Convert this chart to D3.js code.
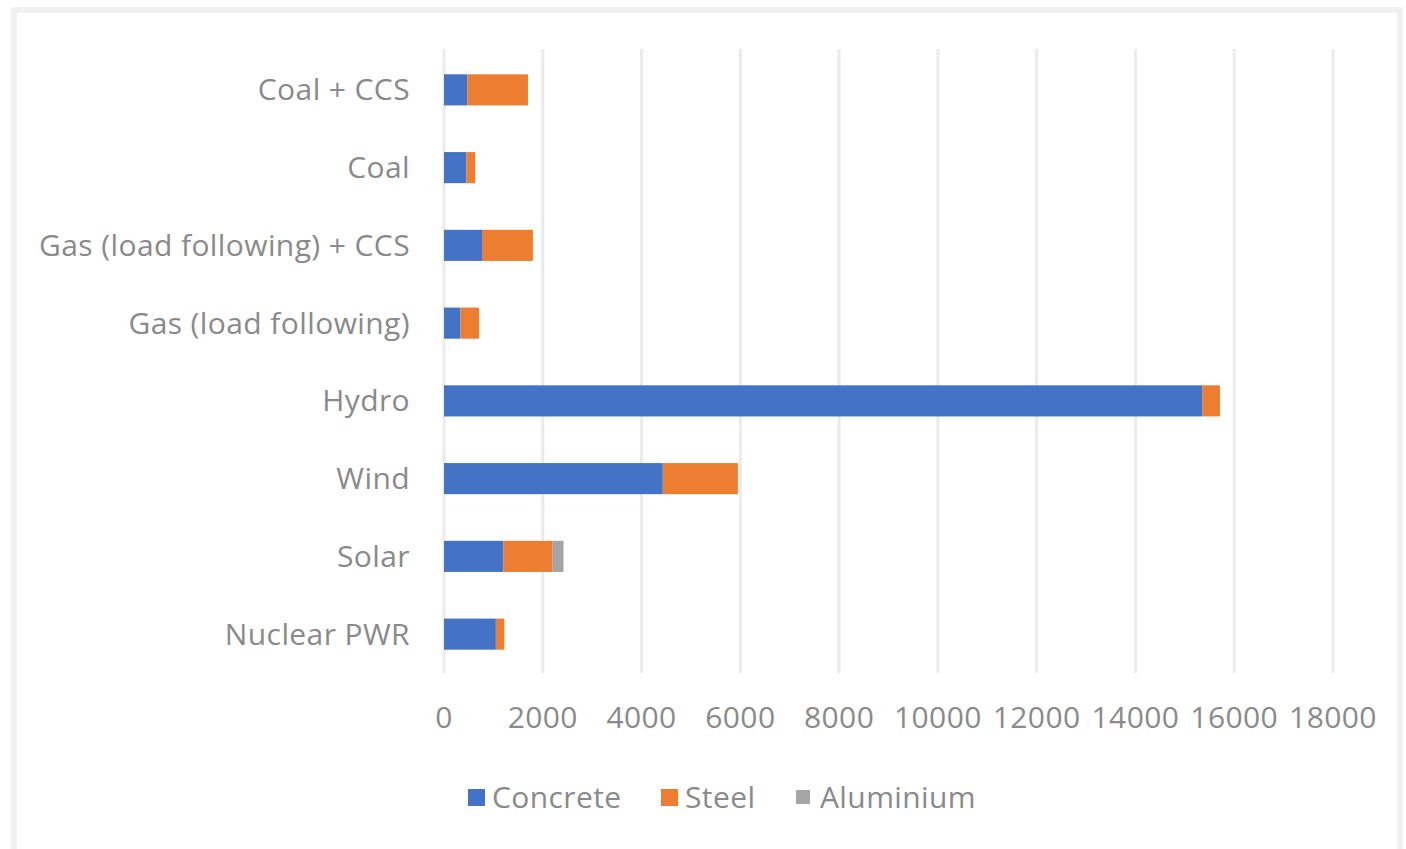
<!DOCTYPE html>
<html>
<head>
<meta charset="utf-8">
<script src="https://cdn.jsdelivr.net/npm/d3@7"></script>
<style>
  body { margin: 0; background: #fff; }
  text { font-family: "Open Sans", sans-serif; fill: #8a8a8a; letter-spacing: 0.4px; }
</style>
</head>
<body>
<script>
// categories, top to bottom as drawn
const categories = ["Coal + CCS", "Coal", "Gas (load following) + CCS", "Gas (load following)",
                    "Hydro", "Wind", "Solar", "Nuclear PWR"]
const concrete  = [470, 450, 770, 330, 15350, 4430, 1200, 1050]
const steel     = [1230, 180, 1030, 380, 360, 1520, 990, 170]
const aluminium = [0, 0, 0, 0, 0, 0, 230, 0]
const seriesNames = ["Concrete", "Steel", "Aluminium"]
const colors = ["#4472C4", "#ED7D31", "#A5A5A5"]
const xTicks = [0, 2000, 4000, 6000, 8000, 10000, 12000, 14000, 16000, 18000]

const width = 1406, height = 849
const margin = { top: 51, right: 73, bottom: 176, left: 444 }

let svg = d3.select("body")
            .append("svg")
                .attr("width", width)
                .attr("height", height)

// light frame around the chart
svg.append("rect")
    .attr("x", 14).attr("y", 10)
    .attr("width", 1386).attr("height", 860)
    .attr("fill", "none")
    .attr("stroke", "#f0f0f0")
    .attr("stroke-width", 6)

const x = d3.scaleLinear()
    .domain([0, 18000])
    .range([margin.left, width - margin.right])

const y = d3.scaleBand()
    .domain(categories)
    .range([margin.top, height - margin.bottom])
    .paddingInner(0.6)
    .paddingOuter(0.3)

// gridlines
svg.append("g")
    .selectAll("line")
    .data(xTicks)
    .enter()
    .append("line")
        .attr("x1", d => x(d)).attr("x2", d => x(d))
        .attr("y1", margin.top - 2).attr("y2", height - margin.bottom)
        .attr("stroke", "#ebebeb")
        .attr("stroke-width", 3)

// stack the three series
const rows = categories.map((c, i) => ({ cat: c, Concrete: concrete[i], Steel: steel[i], Aluminium: aluminium[i] }))
const stacked = d3.stack().keys(seriesNames)(rows)

svg.append("g")
    .selectAll("g")
    .data(stacked)
    .enter()
    .append("g")
        .attr("fill", (d, i) => colors[i])
    .selectAll("rect")
    .data(d => d)
    .enter()
    .append("rect")
        .attr("x", d => x(d[0]))
        .attr("y", d => y(d.data.cat))
        .attr("width", d => x(d[1]) - x(d[0]))
        .attr("height", y.bandwidth())

// category labels
svg.append("g")
    .selectAll("text")
    .data(categories)
    .enter()
    .append("text")
        .attr("x", margin.left - 34)
        .attr("y", d => y(d) + y.bandwidth() / 2)
        .attr("dy", "0.35em")
        .attr("text-anchor", "end")
        .attr("font-size", 30)
        .text(d => d)

// x tick labels
svg.append("g")
    .selectAll("text")
    .data(xTicks)
    .enter()
    .append("text")
        .attr("x", d => x(d))
        .attr("y", 717)
        .attr("dy", "0.35em")
        .attr("text-anchor", "middle")
        .attr("font-size", 30)
        .text(d => d)

// legend
const legendX = [468, 661, 795]
const legend = svg.append("g")
    .selectAll("g")
    .data(seriesNames)
    .enter()
    .append("g")
        .attr("transform", (d, i) => "translate(" + legendX[i] + ",797)")

legend.append("rect")
    .attr("x", (d, i) => i == 2 ? 1 : 0)
    .attr("y", (d, i) => i == 2 ? -7 : -8)
    .attr("width", (d, i) => i == 2 ? 14 : 17)
    .attr("height", (d, i) => i == 2 ? 14 : 17)
    .attr("fill", (d, i) => colors[i])

legend.append("text")
    .attr("x", (d, i) => i == 2 ? 25 : 24)
    .attr("y", 0)
    .attr("dy", "0.35em")
    .attr("font-size", 30)
    .text(d => d)
</script>
</body>
</html>
